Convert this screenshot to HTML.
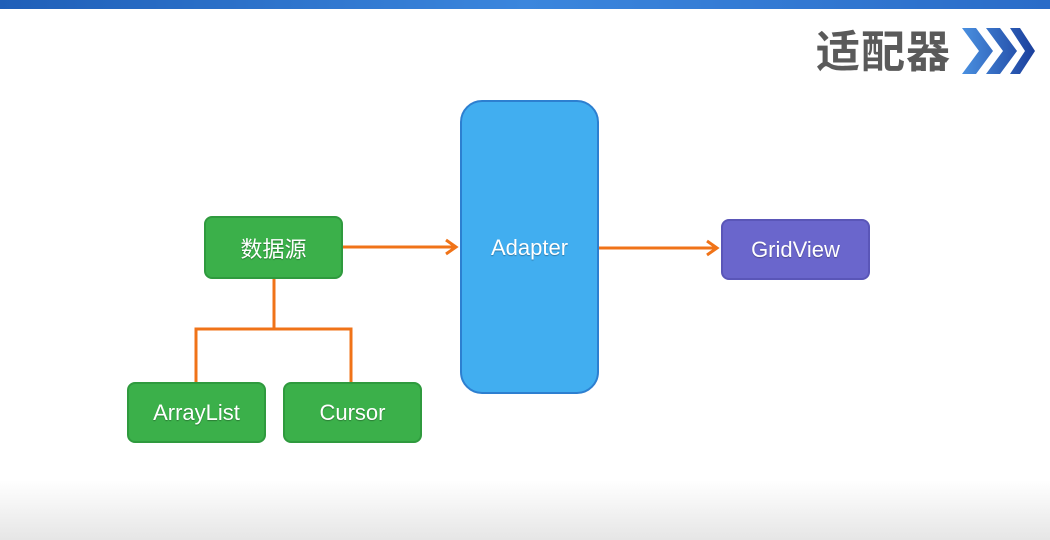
<!DOCTYPE html>
<html><head><meta charset="utf-8"><style>
body{margin:0;width:1050px;height:540px;overflow:hidden;background:#fff;font-family:"Liberation Sans","Noto Sans CJK SC",sans-serif;position:relative}
.top{position:absolute;left:0;top:0;width:1050px;height:9px;background:linear-gradient(90deg,#1f5fb8,#3b86dd 50%,#2a6cc8)}
.bot{position:absolute;left:0;top:480px;width:1050px;height:60px;background:linear-gradient(#fff,#e6e6e6)}
.b{position:absolute;box-sizing:border-box;color:#fff;display:flex;align-items:center;justify-content:center;font-size:22px;text-shadow:0 1px 1px rgba(0,0,0,.3)}
.g{background:#3bb04a;border:2px solid #2f9a3e;border-radius:8px}
</style></head><body>
<div class="top"></div>
<div class="bot"></div>
<div style="position:absolute;left:816px;top:22px;font-size:44px;font-weight:bold;color:#5a5a5a;letter-spacing:1px;font-family:'Noto Sans CJK SC',sans-serif;line-height:52px">适配器</div>
<svg style="position:absolute;left:0;top:0" width="1050" height="540">
<defs><linearGradient id="c" x1="0" x2="1"><stop offset="0" stop-color="#4a90e0"/><stop offset="1" stop-color="#1b3f9c"/></linearGradient></defs>
<path d="M962 28h14l17 23-17 23h-14l17-23zM986 28h14l17 23-17 23h-14l17-23zM1010 28h10l15 23-15 23h-10l15-23z" fill="url(#c)"/>
<g stroke="#f07318" stroke-width="3" fill="none">
<path d="M343 247H456M446 240l10 7-10 7"/>
<path d="M598 248H717M707 241l10 7-10 7"/>
<path d="M274 279V329H196V382M274 329H351V382"/>
</g>
</svg>
<div class="b g" style="left:204px;top:216px;width:139px;height:63px">数据源</div>
<div class="b g" style="left:127px;top:382px;width:139px;height:61px">ArrayList</div>
<div class="b g" style="left:283px;top:382px;width:139px;height:61px">Cursor</div>
<div class="b" style="left:460px;top:100px;width:139px;height:294px;background:#41aef0;border:2px solid #2d7fd0;border-radius:22px;align-items:flex-start;padding-top:133px">Adapter</div>
<div class="b" style="left:721px;top:219px;width:149px;height:61px;background:#6a66cc;border:2px solid #5a56b8;border-radius:8px">GridView</div>
</body></html>
